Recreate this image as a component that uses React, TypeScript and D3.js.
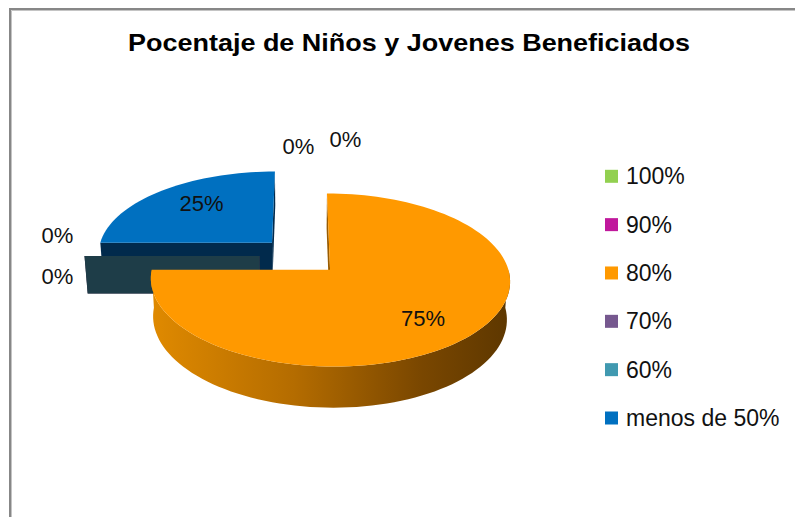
import * as d3 from "d3";
import React, { useEffect, useRef } from "react";

// Data
const categories = ["100%", "90%", "80%", "70%", "60%", "menos de 50%"];
const shares = [0, 0, 75, 0, 0, 25];
const valueLabels = ["0%", "0%", "75%", "0%", "0%", "25%"];

const topColors = ["#92d050", "#c0189c", "#ff9900", "#76588f", "#4099b0", "#0070c0"];
const faceColors = ["#4a6a28", "#600c4e", "#9a5c00", "#3b2b48", "#1e3d48", "#012a4c"];

// Excel pushes the labels around a bit (0% ones apart so they do not overlap)
const labelNudge: [number, number][] = [
  [-2, -10],
  [45, -17],
  [9, 9],
  [3, -21],
  [3, 20],
  [0, -6],
];

const WIDTH = 795;
const HEIGHT = 517;
const FONT = "'Liberation Sans', Arial, sans-serif";

const App: React.FC = () => {
  const svgRef = useRef<SVGSVGElement>(null);

  useEffect(() => {
    if (!svgRef.current) return;
    const svg = d3.select(svgRef.current);
    svg.selectAll("*").remove();

    // 3D pie geometry (world units ~ pixels)
    const R = 175;
    const DEPTH = 43;
    const EXPLODE = 41;
    const TILT = (28 * Math.PI) / 180;
    const FOCAL = 1350;
    const CX = 300.5;
    const CY = 256;
    const cT = Math.cos(TILT);
    const sT = Math.sin(TILT);
    const cam = [0, FOCAL * sT, -FOCAL * cT];

    const project = (x: number, y: number, z: number): [number, number] => {
      const v = y * cT + z * sT;
      const w = z * cT - y * sT;
      const k = FOCAL / (FOCAL + w);
      return [CX + x * k, CY - v * k];
    };

    // frame
    svg
      .append("rect")
      .attr("x", 10)
      .attr("y", 9)
      .attr("width", 900)
      .attr("height", 700)
      .attr("fill", "#fff")
      .attr("stroke", "#878787")
      .attr("stroke-width", 2);
    svg
      .append("path")
      .attr("d", "M11.5,700 V10.5 H900")
      .attr("fill", "none")
      .attr("stroke", "#c4c4c4")
      .attr("stroke-width", 1);

    // title
    svg
      .append("text")
      .attr("x", 409)
      .attr("y", 51)
      .attr("text-anchor", "middle")
      .attr("font-family", FONT)
      .attr("font-weight", "bold")
      .attr("font-size", 24)
      .attr("textLength", 562)
      .attr("lengthAdjust", "spacingAndGlyphs")
      .attr("fill", "#000")
      .text("Pocentaje de Niños y Jovenes Beneficiados");

    const pie = d3.pie<number>().sort(null).value((d) => d);
    const arcs = pie(shares);

    const slices = arcs.map((a, i) => {
      const mid = (a.startAngle + a.endAngle) / 2;
      return {
        i,
        a0: a.startAngle,
        a1: a.endAngle,
        mid,
        ox: EXPLODE * Math.sin(mid),
        oz: EXPLODE * Math.cos(mid),
      };
    });

    type Slice = (typeof slices)[number];
    const rim = (s: Slice, ang: number, y: number, r = R) =>
      project(s.ox + r * Math.sin(ang), y, s.oz + r * Math.cos(ang));
    const corner = (s: Slice, y: number) => project(s.ox, y, s.oz);
    const sample = (lo: number, hi: number) => {
      const n = Math.max(2, Math.ceil(((hi - lo) / (Math.PI * 2)) * 160));
      return d3.range(n + 1).map((k) => lo + ((hi - lo) * k) / n);
    };
    const line = d3.line();

    // side gradient of the big slice
    const orange = slices[2];
    const wallXs = sample(Math.PI / 2, (3 * Math.PI) / 2).map((a) => rim(orange, a, 0)[0]);
    const grad = svg
      .append("defs")
      .append("linearGradient")
      .attr("id", "wallGrad")
      .attr("gradientUnits", "userSpaceOnUse")
      .attr("x1", d3.min(wallXs)!)
      .attr("x2", d3.max(wallXs)!)
      .attr("y1", 0)
      .attr("y2", 0);
    [
      [0, "#e08a00"],
      [0.4, "#b46c00"],
      [0.75, "#7a4700"],
      [1, "#5d3700"],
    ].forEach(([o, c]) =>
      grad.append("stop").attr("offset", o as number).attr("stop-color", c as string),
    );

    const faceVisible = (s: Slice, n: number[]) =>
      n[0] * (cam[0] - s.ox) + n[1] * cam[1] + n[2] * (cam[2] - s.oz) > 0;

    const pieG = svg.append("g");
    const order = [...slices].sort((a, b) => b.oz - a.oz);

    order.forEach((s) => {
      const g = pieG.append("g");
      const cutFace = (ang: number) =>
        line([corner(s, 0), rim(s, ang, 0), rim(s, ang, -DEPTH), corner(s, -DEPTH)]) + "Z";

      // cut faces
      const n0 = [-Math.cos(s.a0), 0, Math.sin(s.a0)];
      if (faceVisible(s, n0))
        g.append("path").attr("d", cutFace(s.a0)).attr("fill", faceColors[s.i]);
      if (s.a1 > s.a0) {
        const n1 = [Math.cos(s.a1), 0, -Math.sin(s.a1)];
        if (faceVisible(s, n1))
          g.append("path").attr("d", cutFace(s.a1)).attr("fill", faceColors[s.i]);
      }

      // outer wall (front half)
      const lo = Math.max(s.a0, Math.PI / 2);
      const hi = Math.min(s.a1, (3 * Math.PI) / 2);
      if (hi > lo) {
        const angs = sample(lo, hi);
        const pts = [
          ...angs.map((a) => rim(s, a, 0)),
          ...angs
            .slice()
            .reverse()
            .map((a) => rim(s, a, -DEPTH)),
        ];
        g.append("path")
          .attr("d", line(pts) + "Z")
          .attr("fill", s.i === 2 ? "url(#wallGrad)" : faceColors[s.i]);
      }

      // top face
      if (s.a1 > s.a0) {
        const pts = [corner(s, 0), ...sample(s.a0, s.a1).map((a) => rim(s, a, 0))];
        g.append("path").attr("d", line(pts) + "Z").attr("fill", topColors[s.i]);
      }
    });

    // data labels
    slices.forEach((s) => {
      const zero = s.a1 === s.a0;
      const [x, y] = zero ? rim(s, s.mid, 0, R + 30) : rim(s, s.mid, 0, R * 0.62);
      const [dx, dy] = labelNudge[s.i];
      svg
        .append("text")
        .attr("x", x + dx)
        .attr("y", y + dy)
        .attr("dy", "0.35em")
        .attr("text-anchor", "middle")
        .attr("font-family", FONT)
        .attr("font-size", 22)
        .attr("fill", "#111")
        .text(valueLabels[s.i]);
    });

    // legend
    const ly = d3.scalePoint<string>().domain(categories).range([176.3, 418]);
    const legend = svg.append("g");
    categories.forEach((c, i) => {
      const cy = ly(c)!;
      legend
        .append("rect")
        .attr("x", 605)
        .attr("y", cy - 6.5)
        .attr("width", 13)
        .attr("height", 13)
        .attr("fill", topColors[i]);
      legend
        .append("text")
        .attr("x", 626)
        .attr("y", cy)
        .attr("dy", "0.35em")
        .attr("font-family", FONT)
        .attr("font-size", 23)
        .attr("fill", "#111")
        .text(c);
    });
  }, []);

  return (
    <svg
      ref={svgRef}
      width={WIDTH}
      height={HEIGHT}
      style={{ position: "absolute", left: 0, top: 0, background: "#fff" }}
    />
  );
};

export default App;
